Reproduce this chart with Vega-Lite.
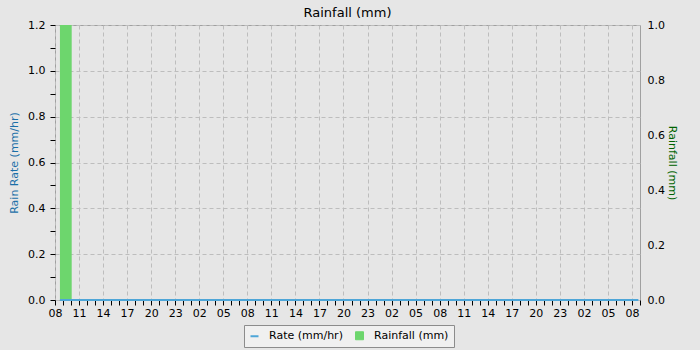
{
  "$schema": "https://vega.github.io/schema/vega-lite/v6.json",
  "width": 585,
  "height": 275,
  "autosize": "none",
  "padding": {"left": 55, "top": 25, "right": 60, "bottom": 50},
  "background": "#e6e6e6",
  "title": {"text": "Rainfall (mm)", "fontSize": 13, "fontWeight": "normal", "font": "DejaVu Sans", "color": "#000000", "offset": -1, "anchor": "middle", "frame": "group"},
  "config": {
    "font": "DejaVu Sans",
    "view": {"stroke": "#a0a0a0", "fill": "#e6e6e6"},
    "axis": {"domain": false, "labelFont": "DejaVu Sans", "labelFontSize": 11, "labelColor": "#000000", "tickColor": "#000000", "titleFont": "DejaVu Sans", "titleFontSize": 11, "titleFontWeight": "normal", "gridColor": "#bdbdbd", "gridDash": [4, 3], "gridWidth": 1}
  },
  "datasets": {
    "rain": [
      {"start": "2024-05-01T08:37", "end": "2024-05-01T10:05", "rainfall": 1.0, "series": "Rainfall (mm)"}
    ],
    "rate": [
      {"t": "2024-05-01T08:37", "rate": 0, "series": "Rate (mm/hr)"},
      {"t": "2024-05-01T09:00", "rate": 0, "series": "Rate (mm/hr)"},
      {"t": "2024-05-01T12:00", "rate": 0, "series": "Rate (mm/hr)"},
      {"t": "2024-05-01T15:00", "rate": 0, "series": "Rate (mm/hr)"},
      {"t": "2024-05-01T18:00", "rate": 0, "series": "Rate (mm/hr)"},
      {"t": "2024-05-01T21:00", "rate": 0, "series": "Rate (mm/hr)"},
      {"t": "2024-05-02T00:00", "rate": 0, "series": "Rate (mm/hr)"},
      {"t": "2024-05-02T03:00", "rate": 0, "series": "Rate (mm/hr)"},
      {"t": "2024-05-02T06:00", "rate": 0, "series": "Rate (mm/hr)"},
      {"t": "2024-05-02T09:00", "rate": 0, "series": "Rate (mm/hr)"},
      {"t": "2024-05-02T12:00", "rate": 0, "series": "Rate (mm/hr)"},
      {"t": "2024-05-02T15:00", "rate": 0, "series": "Rate (mm/hr)"},
      {"t": "2024-05-02T18:00", "rate": 0, "series": "Rate (mm/hr)"},
      {"t": "2024-05-02T21:00", "rate": 0, "series": "Rate (mm/hr)"},
      {"t": "2024-05-03T00:00", "rate": 0, "series": "Rate (mm/hr)"},
      {"t": "2024-05-03T03:00", "rate": 0, "series": "Rate (mm/hr)"},
      {"t": "2024-05-03T06:00", "rate": 0, "series": "Rate (mm/hr)"},
      {"t": "2024-05-03T09:00", "rate": 0, "series": "Rate (mm/hr)"},
      {"t": "2024-05-03T12:00", "rate": 0, "series": "Rate (mm/hr)"},
      {"t": "2024-05-03T15:00", "rate": 0, "series": "Rate (mm/hr)"},
      {"t": "2024-05-03T18:00", "rate": 0, "series": "Rate (mm/hr)"},
      {"t": "2024-05-03T21:00", "rate": 0, "series": "Rate (mm/hr)"},
      {"t": "2024-05-04T00:00", "rate": 0, "series": "Rate (mm/hr)"},
      {"t": "2024-05-04T03:00", "rate": 0, "series": "Rate (mm/hr)"},
      {"t": "2024-05-04T06:00", "rate": 0, "series": "Rate (mm/hr)"},
      {"t": "2024-05-04T08:48", "rate": 0, "series": "Rate (mm/hr)"}
    ]
  },
  "layer": [
    {
      "data": {"name": "rain"},
      "mark": {"type": "rect"},
      "encoding": {
        "x": {"field": "start", "type": "temporal",
          "scale": {"domain": [{"year": 2024, "month": 5, "date": 1, "hours": 8}, {"year": 2024, "month": 5, "date": 4, "hours": 9}], "nice": false},
          "axis": {"title": null, "format": "%H", "labelPadding": 2, "tickSize": 5, "grid": true, "tickCount": 200, "labelFlush": false,
            "values": [
              {"year": 2024, "month": 5, "date": 1, "hours": 8}, {"year": 2024, "month": 5, "date": 1, "hours": 9}, {"year": 2024, "month": 5, "date": 1, "hours": 10}, {"year": 2024, "month": 5, "date": 1, "hours": 11},
              {"year": 2024, "month": 5, "date": 1, "hours": 12}, {"year": 2024, "month": 5, "date": 1, "hours": 13}, {"year": 2024, "month": 5, "date": 1, "hours": 14}, {"year": 2024, "month": 5, "date": 1, "hours": 15},
              {"year": 2024, "month": 5, "date": 1, "hours": 16}, {"year": 2024, "month": 5, "date": 1, "hours": 17}, {"year": 2024, "month": 5, "date": 1, "hours": 18}, {"year": 2024, "month": 5, "date": 1, "hours": 19},
              {"year": 2024, "month": 5, "date": 1, "hours": 20}, {"year": 2024, "month": 5, "date": 1, "hours": 21}, {"year": 2024, "month": 5, "date": 1, "hours": 22}, {"year": 2024, "month": 5, "date": 1, "hours": 23},
              {"year": 2024, "month": 5, "date": 2, "hours": 0}, {"year": 2024, "month": 5, "date": 2, "hours": 1}, {"year": 2024, "month": 5, "date": 2, "hours": 2}, {"year": 2024, "month": 5, "date": 2, "hours": 3},
              {"year": 2024, "month": 5, "date": 2, "hours": 4}, {"year": 2024, "month": 5, "date": 2, "hours": 5}, {"year": 2024, "month": 5, "date": 2, "hours": 6}, {"year": 2024, "month": 5, "date": 2, "hours": 7},
              {"year": 2024, "month": 5, "date": 2, "hours": 8}, {"year": 2024, "month": 5, "date": 2, "hours": 9}, {"year": 2024, "month": 5, "date": 2, "hours": 10}, {"year": 2024, "month": 5, "date": 2, "hours": 11},
              {"year": 2024, "month": 5, "date": 2, "hours": 12}, {"year": 2024, "month": 5, "date": 2, "hours": 13}, {"year": 2024, "month": 5, "date": 2, "hours": 14}, {"year": 2024, "month": 5, "date": 2, "hours": 15},
              {"year": 2024, "month": 5, "date": 2, "hours": 16}, {"year": 2024, "month": 5, "date": 2, "hours": 17}, {"year": 2024, "month": 5, "date": 2, "hours": 18}, {"year": 2024, "month": 5, "date": 2, "hours": 19},
              {"year": 2024, "month": 5, "date": 2, "hours": 20}, {"year": 2024, "month": 5, "date": 2, "hours": 21}, {"year": 2024, "month": 5, "date": 2, "hours": 22}, {"year": 2024, "month": 5, "date": 2, "hours": 23},
              {"year": 2024, "month": 5, "date": 3, "hours": 0}, {"year": 2024, "month": 5, "date": 3, "hours": 1}, {"year": 2024, "month": 5, "date": 3, "hours": 2}, {"year": 2024, "month": 5, "date": 3, "hours": 3},
              {"year": 2024, "month": 5, "date": 3, "hours": 4}, {"year": 2024, "month": 5, "date": 3, "hours": 5}, {"year": 2024, "month": 5, "date": 3, "hours": 6}, {"year": 2024, "month": 5, "date": 3, "hours": 7},
              {"year": 2024, "month": 5, "date": 3, "hours": 8}, {"year": 2024, "month": 5, "date": 3, "hours": 9}, {"year": 2024, "month": 5, "date": 3, "hours": 10}, {"year": 2024, "month": 5, "date": 3, "hours": 11},
              {"year": 2024, "month": 5, "date": 3, "hours": 12}, {"year": 2024, "month": 5, "date": 3, "hours": 13}, {"year": 2024, "month": 5, "date": 3, "hours": 14}, {"year": 2024, "month": 5, "date": 3, "hours": 15},
              {"year": 2024, "month": 5, "date": 3, "hours": 16}, {"year": 2024, "month": 5, "date": 3, "hours": 17}, {"year": 2024, "month": 5, "date": 3, "hours": 18}, {"year": 2024, "month": 5, "date": 3, "hours": 19},
              {"year": 2024, "month": 5, "date": 3, "hours": 20}, {"year": 2024, "month": 5, "date": 3, "hours": 21}, {"year": 2024, "month": 5, "date": 3, "hours": 22}, {"year": 2024, "month": 5, "date": 3, "hours": 23},
              {"year": 2024, "month": 5, "date": 4, "hours": 0}, {"year": 2024, "month": 5, "date": 4, "hours": 1}, {"year": 2024, "month": 5, "date": 4, "hours": 2}, {"year": 2024, "month": 5, "date": 4, "hours": 3},
              {"year": 2024, "month": 5, "date": 4, "hours": 4}, {"year": 2024, "month": 5, "date": 4, "hours": 5}, {"year": 2024, "month": 5, "date": 4, "hours": 6}, {"year": 2024, "month": 5, "date": 4, "hours": 7},
              {"year": 2024, "month": 5, "date": 4, "hours": 8}, {"year": 2024, "month": 5, "date": 4, "hours": 9}
            ],
            "labelExpr": "hours(datum.value) % 3 == 2 ? datum.label : ''",
            "labelOverlap": false,
            "gridOpacity": {"condition": {"test": "hours(datum.value) % 3 == 2", "value": 1}, "value": 0},
            "encode": {"ticks": {"update": {"y2": {"signal": "hours(datum.value) % 3 == 2 ? 5 : 3"}}}}}},
        "x2": {"field": "end"},
        "y": {"field": "rainfall", "type": "quantitative",
          "scale": {"domain": [0, 1.0], "nice": false, "zero": true},
          "axis": {"orient": "right", "title": "Rainfall (mm)", "titleColor": "#006400", "titlePadding": 2, "grid": false,
            "values": [0, 0.1, 0.2, 0.3, 0.4, 0.5, 0.6, 0.7, 0.8, 0.9, 1.0],
            "labelExpr": "round(datum.value * 10) % 2 == 0 ? format(datum.value, '.1f') : ''",
            "tickSize": 0, "labelPadding": 7,
            "encode": {"ticks": {"update": {"x2": {"signal": "round(datum.value * 10) % 2 == 0 ? -6 : -3"}}}}}},
        "y2": {"datum": 0},
        "color": {"field": "series", "type": "nominal",
          "scale": {"domain": ["Rate (mm/hr)", "Rainfall (mm)"], "range": ["#4ea6d8", "#6dd66d"]},
          "legend": {"orient": "none", "legendX": 189, "legendY": 300, "direction": "horizontal", "title": null,
            "fillColor": "#f0f0f0", "strokeColor": "#8c8c8c", "padding": 5,
            "labelFont": "DejaVu Sans", "labelFontSize": 11, "labelColor": "#000000", "labelOffset": 9, "columnPadding": 10, "symbolSize": 64, "symbolType": "square",
            "encode": {"symbols": {"update": {
              "shape": {"signal": "datum.value === 'Rate (mm/hr)' ? 'stroke' : 'square'"},
              "stroke": {"signal": "datum.value === 'Rate (mm/hr)' ? '#4ea6d8' : '#555555'"},
              "strokeWidth": {"signal": "datum.value === 'Rate (mm/hr)' ? 2 : 1"}}}}}}
      }
    },
    {
      "data": {"name": "rate"},
      "mark": {"type": "line", "strokeWidth": 2},
      "encoding": {
        "x": {"field": "t", "type": "temporal"},
        "y": {"field": "rate", "type": "quantitative",
          "scale": {"domain": [0, 1.2], "nice": false},
          "axis": {"orient": "left", "title": "Rain Rate (mm/hr)", "titleColor": "#1a6fa8", "titlePadding": 8,
            "values": [0, 0.1, 0.2, 0.3, 0.4, 0.5, 0.6, 0.7, 0.8, 0.9, 1.0, 1.1, 1.2],
            "labelExpr": "round(datum.value * 10) % 2 == 0 ? format(datum.value, '.1f') : ''",
            "labelPadding": 5, "tickSize": 5, "grid": true,
            "gridOpacity": {"condition": {"test": "round(datum.value * 10) % 2 == 0", "value": 1}, "value": 0},
            "encode": {"ticks": {"update": {"x2": {"signal": "round(datum.value * 10) % 2 == 0 ? -5 : -3"}}}}}},
        "color": {"field": "series", "type": "nominal"}
      }
    }
  ],
  "resolve": {"scale": {"y": "independent"}, "axis": {"y": "independent"}}
}
